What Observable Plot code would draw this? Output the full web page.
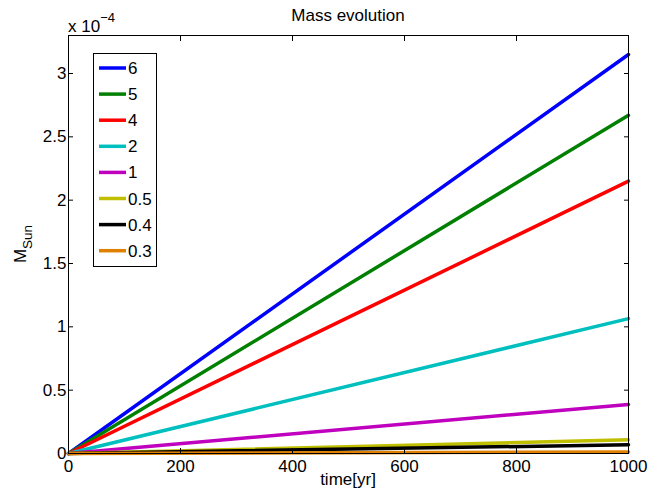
<!DOCTYPE html>
<html><head><meta charset="utf-8">
<script src="https://cdn.jsdelivr.net/npm/d3@7"></script>
<script src="https://cdn.jsdelivr.net/npm/@observablehq/plot@0.6"></script>
<style>
body{margin:0;background:#fff}
#c{position:relative;width:656px;height:491px;font-family:"Liberation Sans",Arial,sans-serif}
</style>
</head><body><div id="c"></div>
<script>
const seriesNames = ["6", "5", "4", "2", "1", "0.5", "0.4", "0.3"];
const startMass = [0, 0, 0, 0, 0, 0, 0, 0];
const finalMass = [3.15e-4, 2.67e-4, 2.15e-4, 1.065e-4, 0.387e-4, 0.108e-4, 0.069e-4, 0.012e-4];
const colors = ["#0000ff", "#008000", "#ff0000", "#00bfbf", "#bf00bf", "#bfbf00", "#000000", "#e08000"];
const times = [0, 1000];
const xTicks = [0, 200, 400, 600, 800, 1000];
const yTicks = [0, 0.5e-4, 1e-4, 1.5e-4, 2e-4, 2.5e-4, 3e-4];

const data = [];
seriesNames.forEach((s, i) => {
  data.push({s, t: times[0], m: startMass[i]});
  data.push({s, t: times[1], m: finalMass[i]});
});

const FS = 17;
const fmtY = d => String(+(d * 1e4).toFixed(2));

const chart = Plot.plot({
  width: 656, height: 491,
  marginLeft: 68, marginRight: 28, marginTop: 35, marginBottom: 38,
  style: {fontFamily: '"Liberation Sans", Arial, sans-serif', fontSize: FS + "px", color: "black", background: "white"},
  x: {domain: [0, 1000]},
  y: {domain: [0, 3.3e-4]},
  color: {domain: seriesNames, range: colors},
  marks: [
    Plot.line(data, {x: "t", y: "m", z: "s", stroke: "s", strokeWidth: 3.5}),
    Plot.frame({stroke: "black"}),
    Plot.axisX({anchor: "bottom", ticks: xTicks, tickSize: -5, tickPadding: 11, fontSize: FS, tickFormat: d => String(d), label: null}),
    Plot.axisX({anchor: "top", ticks: xTicks, tickSize: -5, text: null, label: null}),
    Plot.axisY({anchor: "left", ticks: yTicks, tickSize: -5, tickPadding: 7, fontSize: FS, tickFormat: fmtY, label: null}),
    Plot.axisY({anchor: "right", ticks: yTicks, tickSize: -5, text: null, label: null})
  ]
});
document.getElementById("c").appendChild(chart);

const svg = d3.select(chart);
const ff = '"Liberation Sans", Arial, sans-serif';
svg.append("text").attr("x", 348).attr("y", 21).attr("text-anchor", "middle")
  .attr("font-size", FS).attr("font-family", ff).attr("fill", "black").text("Mass evolution");
svg.append("text").attr("x", 348).attr("y", 485).attr("text-anchor", "middle")
  .attr("font-size", FS).attr("font-family", ff).attr("fill", "black").text("time[yr]");
const ex = svg.append("text").attr("x", 68).attr("y", 32).attr("text-anchor", "start").attr("font-size", FS).attr("font-family", ff).attr("fill", "black");
ex.append("tspan").text("x 10");
ex.append("tspan").attr("dy", -10).attr("font-size", 13).text("\u22124");
const yl = svg.append("text").attr("transform", "translate(26,244) rotate(-90)").attr("text-anchor", "middle")
  .attr("font-size", FS).attr("font-family", ff).attr("fill", "black");
yl.append("tspan").text("M");
yl.append("tspan").attr("dy", 6).attr("font-size", 13.5).text("Sun");

// legend
const lg = svg.append("g");
lg.append("rect").attr("x", 93.5).attr("y", 53.5).attr("width", 63).attr("height", 213)
  .attr("fill", "white").attr("stroke", "black").attr("stroke-width", 1);
seriesNames.forEach((s, i) => {
  const y = 68 + i * 26.1;
  lg.append("line").attr("x1", 99).attr("x2", 126).attr("y1", y).attr("y2", y)
    .attr("stroke", colors[i]).attr("stroke-width", 3.5);
  lg.append("text").attr("x", 128).attr("y", y + 6).attr("text-anchor", "start").attr("font-size", FS).attr("font-family", ff)
    .attr("fill", "black").text(s);
});
</script>
</body></html>
